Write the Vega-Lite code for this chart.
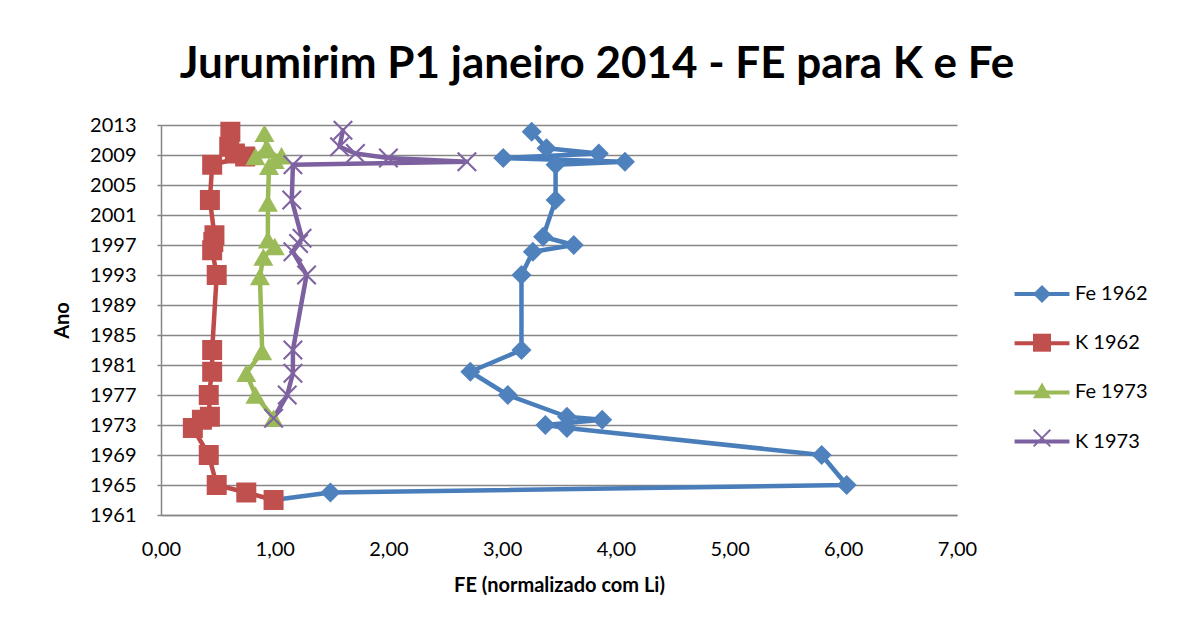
{
  "$schema": "https://vega.github.io/schema/vega-lite/v6.json",
  "width": 796,
  "height": 390,
  "autosize": {"type": "none"},
  "padding": {"left": 161, "top": 125, "right": 226, "bottom": 115},
  "background": "white",
  "title": {
    "text": "Jurumirim P1 janeiro 2014 - FE para K e Fe",
    "font": "Lato",
    "fontSize": 44,
    "fontWeight": "bold",
    "color": "#000000",
    "anchor": "middle",
    "dx": 38,
    "offset": 28
  },
  "config": {
    "view": {"stroke": null},
    "axis": {"labelFont": "Lato", "titleFont": "Lato", "labelColor": "#000000", "titleColor": "#000000"}
  },
  "data": {
    "values": [
      {"serie": "Fe 1962", "i": 1, "ano": 2012.1, "fe": 3.26},
      {"serie": "Fe 1962", "i": 2, "ano": 2009.9, "fe": 3.39},
      {"serie": "Fe 1962", "i": 3, "ano": 2009.2, "fe": 3.85},
      {"serie": "Fe 1962", "i": 4, "ano": 2008.6, "fe": 3.01},
      {"serie": "Fe 1962", "i": 5, "ano": 2008.1, "fe": 4.08},
      {"serie": "Fe 1962", "i": 6, "ano": 2007.7, "fe": 3.47},
      {"serie": "Fe 1962", "i": 7, "ano": 2003.0, "fe": 3.47},
      {"serie": "Fe 1962", "i": 8, "ano": 1998.1, "fe": 3.36},
      {"serie": "Fe 1962", "i": 9, "ano": 1997.0, "fe": 3.63},
      {"serie": "Fe 1962", "i": 10, "ano": 1996.1, "fe": 3.27},
      {"serie": "Fe 1962", "i": 11, "ano": 1993.0, "fe": 3.17},
      {"serie": "Fe 1962", "i": 12, "ano": 1983.0, "fe": 3.17},
      {"serie": "Fe 1962", "i": 13, "ano": 1980.1, "fe": 2.72},
      {"serie": "Fe 1962", "i": 14, "ano": 1977.0, "fe": 3.05},
      {"serie": "Fe 1962", "i": 15, "ano": 1974.1, "fe": 3.57},
      {"serie": "Fe 1962", "i": 16, "ano": 1973.7, "fe": 3.88},
      {"serie": "Fe 1962", "i": 17, "ano": 1973.0, "fe": 3.38},
      {"serie": "Fe 1962", "i": 18, "ano": 1972.6, "fe": 3.57},
      {"serie": "Fe 1962", "i": 19, "ano": 1969.0, "fe": 5.81},
      {"serie": "Fe 1962", "i": 20, "ano": 1965.0, "fe": 6.03},
      {"serie": "Fe 1962", "i": 21, "ano": 1964.0, "fe": 1.49},
      {"serie": "Fe 1962", "i": 22, "ano": 1963.0, "fe": 0.99},
      {"serie": "K 1962", "i": 1, "ano": 2012.1, "fe": 0.61},
      {"serie": "K 1962", "i": 2, "ano": 2010.1, "fe": 0.6},
      {"serie": "K 1962", "i": 3, "ano": 2009.2, "fe": 0.65},
      {"serie": "K 1962", "i": 4, "ano": 2008.8, "fe": 0.74},
      {"serie": "K 1962", "i": 5, "ano": 2007.7, "fe": 0.45},
      {"serie": "K 1962", "i": 6, "ano": 2003.0, "fe": 0.43},
      {"serie": "K 1962", "i": 7, "ano": 1998.3, "fe": 0.47},
      {"serie": "K 1962", "i": 8, "ano": 1997.4, "fe": 0.46},
      {"serie": "K 1962", "i": 9, "ano": 1996.3, "fe": 0.45},
      {"serie": "K 1962", "i": 10, "ano": 1993.0, "fe": 0.49},
      {"serie": "K 1962", "i": 11, "ano": 1983.0, "fe": 0.45},
      {"serie": "K 1962", "i": 12, "ano": 1980.1, "fe": 0.45},
      {"serie": "K 1962", "i": 13, "ano": 1977.0, "fe": 0.42},
      {"serie": "K 1962", "i": 14, "ano": 1974.1, "fe": 0.43},
      {"serie": "K 1962", "i": 15, "ano": 1973.7, "fe": 0.36},
      {"serie": "K 1962", "i": 16, "ano": 1972.6, "fe": 0.28},
      {"serie": "K 1962", "i": 17, "ano": 1969.0, "fe": 0.42},
      {"serie": "K 1962", "i": 18, "ano": 1965.0, "fe": 0.49},
      {"serie": "K 1962", "i": 19, "ano": 1964.0, "fe": 0.75},
      {"serie": "K 1962", "i": 20, "ano": 1963.0, "fe": 0.99},
      {"serie": "Fe 1973", "i": 1, "ano": 2011.9, "fe": 0.91},
      {"serie": "Fe 1973", "i": 2, "ano": 2010.0, "fe": 0.93},
      {"serie": "Fe 1973", "i": 3, "ano": 2008.8, "fe": 0.83},
      {"serie": "Fe 1973", "i": 4, "ano": 2008.9, "fe": 1.06},
      {"serie": "Fe 1973", "i": 5, "ano": 2008.3, "fe": 1.0},
      {"serie": "Fe 1973", "i": 6, "ano": 2007.5, "fe": 0.95},
      {"serie": "Fe 1973", "i": 7, "ano": 2002.6, "fe": 0.94},
      {"serie": "Fe 1973", "i": 8, "ano": 1997.7, "fe": 0.94},
      {"serie": "Fe 1973", "i": 9, "ano": 1996.8, "fe": 1.0},
      {"serie": "Fe 1973", "i": 10, "ano": 1995.4, "fe": 0.9},
      {"serie": "Fe 1973", "i": 11, "ano": 1992.8, "fe": 0.87},
      {"serie": "Fe 1973", "i": 12, "ano": 1982.8, "fe": 0.89},
      {"serie": "Fe 1973", "i": 13, "ano": 1979.9, "fe": 0.75},
      {"serie": "Fe 1973", "i": 14, "ano": 1977.0, "fe": 0.83},
      {"serie": "Fe 1973", "i": 15, "ano": 1973.9, "fe": 0.99},
      {"serie": "K 1973", "i": 1, "ano": 2012.3, "fe": 1.6},
      {"serie": "K 1973", "i": 2, "ano": 2010.1, "fe": 1.57},
      {"serie": "K 1973", "i": 3, "ano": 2009.2, "fe": 1.71},
      {"serie": "K 1973", "i": 4, "ano": 2008.6, "fe": 2.0},
      {"serie": "K 1973", "i": 5, "ano": 2008.1, "fe": 2.69},
      {"serie": "K 1973", "i": 6, "ano": 2007.7, "fe": 1.16},
      {"serie": "K 1973", "i": 7, "ano": 2003.0, "fe": 1.15},
      {"serie": "K 1973", "i": 8, "ano": 1997.9, "fe": 1.24},
      {"serie": "K 1973", "i": 9, "ano": 1997.2, "fe": 1.21},
      {"serie": "K 1973", "i": 10, "ano": 1996.1, "fe": 1.16},
      {"serie": "K 1973", "i": 11, "ano": 1993.0, "fe": 1.28},
      {"serie": "K 1973", "i": 12, "ano": 1983.0, "fe": 1.16},
      {"serie": "K 1973", "i": 13, "ano": 1979.9, "fe": 1.16},
      {"serie": "K 1973", "i": 14, "ano": 1977.0, "fe": 1.11},
      {"serie": "K 1973", "i": 15, "ano": 1973.9, "fe": 0.99}
    ]
  },
  "encoding": {
    "x": {
      "field": "fe",
      "type": "quantitative",
      "title": "FE (normalizado com Li)",
      "scale": {"domain": [0, 7], "nice": false, "zero": false},
      "axis": {
        "values": [0, 1, 2, 3, 4, 5, 6, 7],
        "labelExpr": "replace(format(datum.value, '.2f'), '.', ',')",
        "labelFlush": false,
        "grid": false,
        "ticks": false,
        "domainColor": "#868686",
        "domainWidth": 1.5,
        "labelFontSize": 20,
        "labelPadding": 24,
        "titleFontSize": 20,
        "titleFontWeight": "bold",
        "titlePadding": 16
      }
    },
    "y": {
      "field": "ano",
      "type": "quantitative",
      "title": "Ano",
      "scale": {"domain": [1961, 2013], "nice": false, "zero": false},
      "axis": {
        "values": [1961, 1965, 1969, 1973, 1977, 1981, 1985, 1989, 1993, 1997, 2001, 2005, 2009, 2013],
        "format": "d",
        "labelFlush": false,
        "grid": true,
        "gridColor": "#868686",
        "gridWidth": 1.5,
        "domainColor": "#868686",
        "domainWidth": 1.5,
        "tickColor": "#868686",
        "tickWidth": 1.5,
        "tickSize": 4,
        "labelFontSize": 20,
        "labelPadding": 21,
        "titleFontSize": 20,
        "titleFontWeight": "bold",
        "titlePadding": 17
      }
    }
  },
  "layer": [
    {
      "mark": {"type": "line", "strokeWidth": 4.5, "strokeJoin": "round", "strokeCap": "round"},
      "encoding": {
        "color": {
          "field": "serie",
          "type": "nominal",
          "scale": {
            "domain": ["Fe 1962", "K 1962", "Fe 1973", "K 1973"],
            "range": ["#4A7EBB", "#BE4B48", "#98B954", "#7D60A0"]
          },
          "legend": {
            "orient": "none",
            "legendX": 870,
            "legendY": 158,
            "title": null,
            "symbolType": "M-3.05,0L3.05,0",
            "symbolSize": 324,
            "symbolStrokeWidth": 4,
            "labelFont": "Lato",
            "labelFontSize": 20,
            "labelColor": "#000000",
            "labelOffset": 22,
            "rowPadding": 28.2
          }
        },
        "order": {"field": "i", "type": "quantitative"}
      }
    },
    {
      "mark": {"type": "point", "filled": true, "opacity": 1, "size": 400},
      "encoding": {
        "shape": {
          "field": "serie",
          "type": "nominal",
          "scale": {
            "domain": ["Fe 1962", "K 1962", "Fe 1973", "K 1973", "-"],
            "range": ["diamond", "square", "triangle-up", "M-1,-0.85L-0.85,-1L0,-0.15L0.85,-1L1,-0.85L0.15,0L1,0.85L0.85,1L0,0.15L-0.85,1L-1,0.85L-0.15,0Z", "circle"]
          },
          "legend": {
            "orient": "none",
            "legendX": 870,
            "legendY": 158,
            "title": null,
            "values": ["Fe 1962", "K 1962", "Fe 1973", "K 1973"],
            "symbolSize": 324,
            "symbolStrokeWidth": 4,
            "labelExpr": "''",
            "labelFontSize": 20,
            "rowPadding": 14.7
          }
        },
        "fill": {
          "field": "serie",
          "type": "nominal",
          "scale": {
            "domain": ["Fe 1962", "K 1962", "Fe 1973", "K 1973", "-"],
            "range": ["#4F81BD", "#C0504D", "#9BBB59", "#8064A2", "#000000"]
          },
          "legend": {
            "orient": "none",
            "legendX": 870,
            "legendY": 158,
            "title": null,
            "values": ["Fe 1962", "K 1962", "Fe 1973", "K 1973"],
            "symbolSize": 324,
            "symbolStrokeWidth": 4,
            "labelExpr": "''",
            "labelFontSize": 20,
            "rowPadding": 14.7
          }
        }
      }
    }
  ]
}
